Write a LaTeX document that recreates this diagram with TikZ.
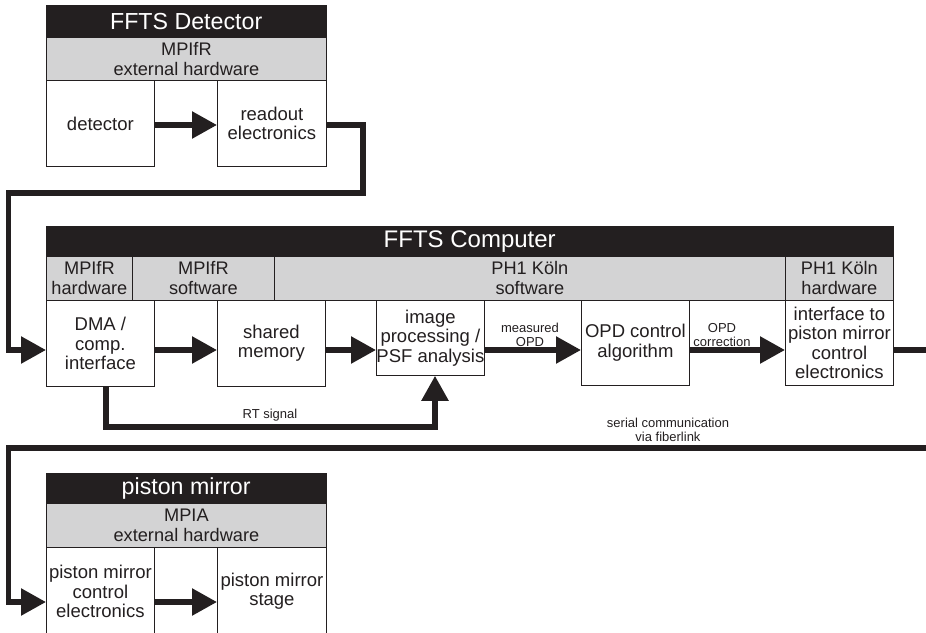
\documentclass[tikz,border=0pt]{standalone}
\usepackage{fontspec}
\setmainfont{Liberation Sans}
\usetikzlibrary{arrows.meta}
\definecolor{ink}{RGB}{35,31,32}
\definecolor{band}{RGB}{211,211,212}
\begin{document}
\begin{tikzpicture}[x=1pt,y=-1pt,
  hdr/.style={fill=ink, draw=ink, text=white, inner sep=0, anchor=north west, font=\fontsize{23.2}{24}\selectfont},
  grp/.style={fill=band, draw=ink, line width=0.8pt, inner sep=0, anchor=north west, align=center, text=ink, font=\fontsize{18.2}{20}\selectfont},
  blk/.style={fill=white, draw=ink, line width=0.8pt, inner sep=0, anchor=north west, align=center, text=ink, font=\fontsize{18.5}{19.5}\selectfont},
  lbl/.style={inner sep=0, align=center, text=ink, font=\fontsize{13}{14.5}\selectfont},
  wire/.style={draw=ink, line width=5.5pt, line join=miter},
  arr/.style={wire, -{Triangle[length=25pt,width=26pt]}},
]
\useasboundingbox (0,0) rectangle (926,632);
\clip (0,0) rectangle (926,632);

% FFTS Detector group
\node[hdr, minimum width=280, minimum height=32] (dh) at (46,5) {FFTS Detector};
\node[grp, minimum width=280, minimum height=43] (dg) at (46,37) {MPIfR\\external hardware};
\node[blk, minimum width=108, minimum height=86] (det) at (46,80) {detector};
\node[blk, minimum width=109, minimum height=86] (ro) at (217,80) {readout\\electronics};

% FFTS Computer group
\node[hdr, minimum width=847, minimum height=30, font=\fontsize{24}{25}\selectfont] (ch) at (46,226) {FFTS Computer};
\node[grp, minimum width=86, minimum height=44] (g1) at (46,256) {MPIfR\\hardware};
\node[grp, minimum width=142, minimum height=44] (g2) at (132,256) {MPIfR\\software};
\node[grp, minimum width=511, minimum height=44] (g3) at (274,256) {PH1 Köln\\software};
\node[grp, minimum width=108, minimum height=44] (g4) at (785,256) {PH1 Köln\\hardware};
\node[blk, minimum width=108, minimum height=86] (dma) at (46,300) {DMA /\\comp.\\interface};
\node[blk, minimum width=108, minimum height=86] (shm) at (217,300) {shared\\memory};
\node[blk, minimum width=108, minimum height=75] (img) at (376,300) {image\\processing /\\PSF analysis};
\node[blk, minimum width=108, minimum height=85] (opd) at (581,300) {OPD control\\algorithm};
\node[blk, minimum width=108, minimum height=85] (ifc) at (785,300) {interface to\\piston mirror\\control\\electronics};

% piston mirror group
\node[hdr, minimum width=280, minimum height=30] (ph) at (46,473) {piston mirror};
\node[grp, minimum width=280, minimum height=44] (pg) at (46,503) {MPIA\\external hardware};
\node[blk, minimum width=108, minimum height=88] (pmc) at (46,547) {piston mirror\\control\\electronics};
\node[blk, minimum width=109, minimum height=88] (pms) at (217,547) {piston mirror\\stage};

% helper coordinates
\coordinate (yd) at (0,125);
\coordinate (ya) at (0,350);
\coordinate (yp) at (0,602);
\coordinate (k1) at (363,193);
\coordinate (k2) at (8.5,193);
\coordinate (r1) at (106,427);
\coordinate (r2) at (435,427);
\coordinate (e1) at (932,350);
\coordinate (e2) at (932,448);
\coordinate (k3) at (8.5,448);

% connectors
\draw[arr] (det.east |- yd) -- (ro.west |- yd);
\draw[arr] (ro.east |- yd) -| (k1) -- (k2) |- (dma.west |- ya);
\draw[arr] (dma.east |- ya) -- (shm.west |- ya);
\draw[arr] (shm.east |- ya) -- (img.west |- ya);
\draw[arr] (img.east |- ya) -- (opd.west |- ya);
\draw[arr] (opd.east |- ya) -- (ifc.west |- ya);
\draw[wire] (ifc.east |- ya) -- (e1);
\draw[arr] (e2) -- (k3) |- (pmc.west |- yp);
\draw[arr] (pmc.east |- yp) -- (pms.west |- yp);
\draw[arr] (dma.south -| r1) -- (r1) -- (r2) -- (img.south -| r2);

% labels
\node[lbl] (lm) at (530,335) {measured\\OPD};
\node[lbl] (lc) at (722,335) {OPD\\correction};
\node[lbl] (lrt) at (270,415) {RT signal};
\node[lbl] (ls) at (668,430) {serial communication\\via fiberlink};
\end{tikzpicture}
\end{document}
